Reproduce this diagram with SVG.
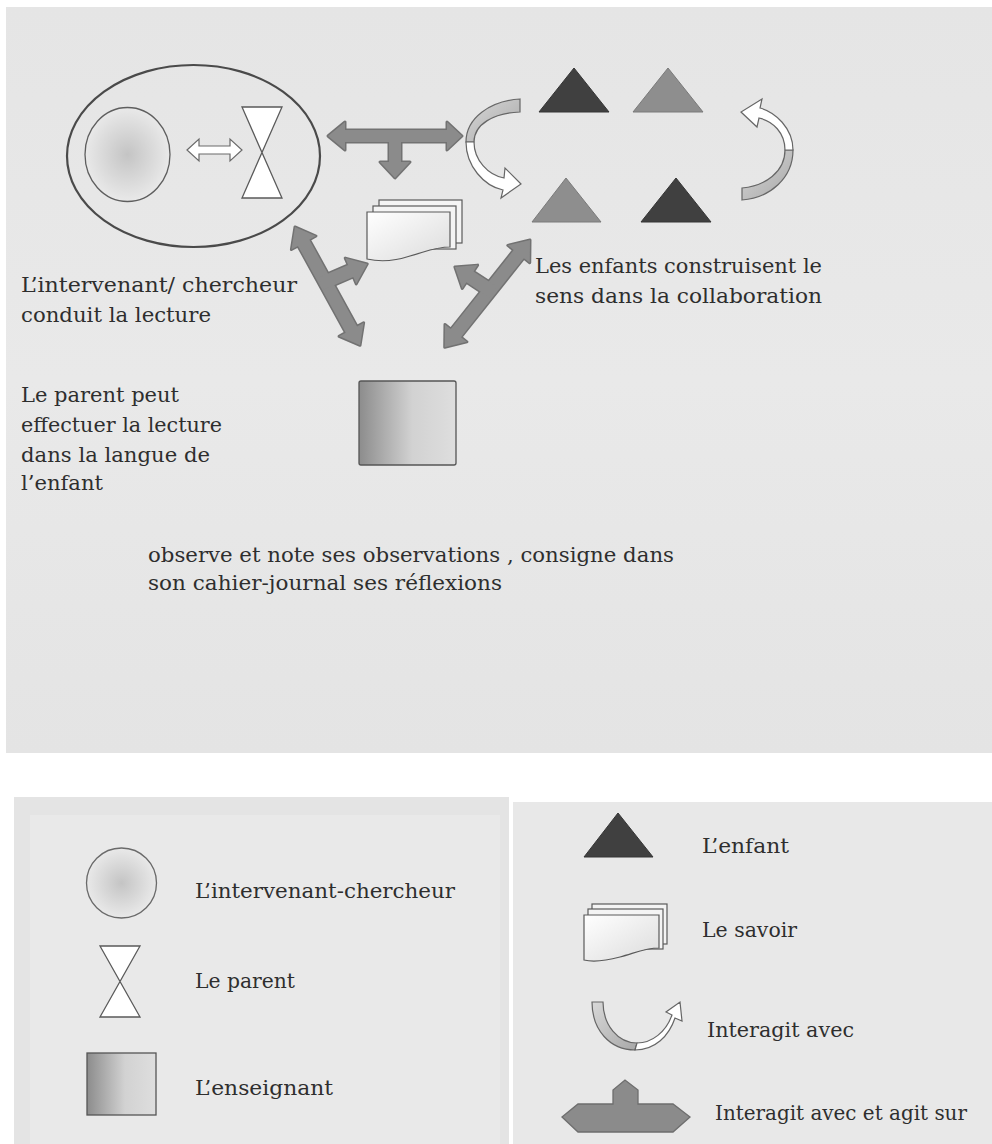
<svg xmlns="http://www.w3.org/2000/svg" xmlns:xlink="http://www.w3.org/1999/xlink" width="992" height="1144" viewBox="0 0 992 1144">
<defs>
<style>
.txt{font-family:"DejaVu Serif","Liberation Serif",serif;font-size:20px;fill:#2e2e2e}
.arrowout{fill:none;stroke:#727272;stroke-width:3;stroke-linejoin:round}
.arrowfill{fill:#8b8b8b;stroke:none}
.dark{fill:#404040;stroke:#353535;stroke-width:1}
.mid{fill:#8e8e8e;stroke:#7a7a7a;stroke-width:1}
.white{fill:#ffffff;stroke:#5a5a5a;stroke-width:1.3}
.band{fill:url(#bandGrad);stroke:#666666;stroke-width:1.2}
.bandw{fill:#ffffff;stroke:#666666;stroke-width:1.2}
</style>
<radialGradient id="circGrad" cx="0.5" cy="0.5" r="0.5">
<stop offset="0" stop-color="#c4c4c4"/>
<stop offset="1" stop-color="#e9e9e9"/>
</radialGradient>
<linearGradient id="sqGrad" x1="0" y1="0" x2="1" y2="0">
<stop offset="0" stop-color="#8c8c8c"/>
<stop offset="0.55" stop-color="#d2d2d2"/>
<stop offset="1" stop-color="#dedede"/>
</linearGradient>
<linearGradient id="cardGrad" x1="0" y1="0" x2="1" y2="1">
<stop offset="0" stop-color="#ffffff"/>
<stop offset="1" stop-color="#dcdcdc"/>
</linearGradient>
<linearGradient id="bandGrad" x1="0" y1="0" x2="1" y2="1">
<stop offset="0" stop-color="#d8d8d8"/>
<stop offset="1" stop-color="#a8a8a8"/>
</linearGradient>
<linearGradient id="panelGrad" x1="0" y1="0" x2="0" y2="1">
<stop offset="0" stop-color="#e5e5e5"/>
<stop offset="0.5" stop-color="#e9e9e9"/>
<stop offset="1" stop-color="#e4e4e4"/>
</linearGradient>
<path id="dblL" d="M0,0 L18,-14 L18,-6.5 L117,-6.5 L117,-14 L135,0 L117,14 L117,6.5 L18,6.5 L18,14 Z"/>
<path id="dblR" d="M0,0 L18,-14 L18,-6.5 L119,-6.5 L119,-14 L137,0 L119,14 L119,6.5 L18,6.5 L18,14 Z"/>
<path id="brL" d="M-4,-6.5 L28,-6.5 L28,-14 L46,0 L28,14 L28,6.5 L-4,6.5 Z"/>
<path id="brR" d="M-4,-6.5 L24,-6.5 L24,-14 L42,0 L24,14 L24,6.5 L-4,6.5 Z"/>
<path id="tArrow" d="M328,136 L345,122 L345,130 L447,130 L447,122 L462,136 L447,150 L447,142 L401,142 L401,162 L410,162 L395,178 L380,162 L389,162 L389,142 L345,142 L345,150 Z"/>
</defs>

<!-- panels -->
<rect x="0" y="0" width="992" height="1144" fill="#ffffff"/>
<rect x="6" y="7" width="986" height="746" fill="url(#panelGrad)"/>
<rect x="14" y="797" width="495" height="347" fill="#e4e4e4"/>
<rect x="30" y="815" width="470" height="329" fill="#e9e9e9"/>
<rect x="513" y="802" width="479" height="342" fill="#e8e8e8"/>

<!-- connectors -->
<g id="connectors">
  <g id="outlines">
    <use xlink:href="#tArrow" class="arrowout"/>
    <use xlink:href="#dblL" class="arrowout" transform="translate(295,227) rotate(61.2)"/>
    <use xlink:href="#brL" class="arrowout" transform="translate(325,282) rotate(-23.2)"/>
    <use xlink:href="#dblR" class="arrowout" transform="translate(530,240) rotate(128.5)"/>
    <use xlink:href="#brR" class="arrowout" transform="translate(490,290) rotate(-146.7)"/>
  </g>
  <g id="fills">
    <use xlink:href="#tArrow" class="arrowfill"/>
    <use xlink:href="#dblL" class="arrowfill" transform="translate(295,227) rotate(61.2)"/>
    <use xlink:href="#brL" class="arrowfill" transform="translate(325,282) rotate(-23.2)"/>
    <use xlink:href="#dblR" class="arrowfill" transform="translate(530,240) rotate(128.5)"/>
    <use xlink:href="#brR" class="arrowfill" transform="translate(490,290) rotate(-146.7)"/>
  </g>
  <path id="smallArrow" d="M187,150 L199,139 L199,146 L230,146 L230,139 L242,150 L230,161 L230,154 L199,154 L199,161 Z" fill="#ffffff" stroke="#6a6a6a" stroke-width="1.2"/>
  <g id="curveLeft">
    <path class="band" d="M520,99 C490,101 466,118 466,142 L474,142 C474,124 494,113 520,112 Z"/>
    <path class="bandw" d="M466,142 C466,166 484,186 503,190 L501,198 L521,184 L505,168 L504,178 C488,175 474,160 474,142 Z"/>
  </g>
  <g id="curveRight">
    <path class="band" d="M742,200 C770,198 793,178 793,150 L785,150 C785,172 765,186 742,188 Z"/>
    <path class="bandw" d="M793,150 C793,128 775,112 760,108 L762,99 L741,112 L757,127 L759,118 C773,121 785,133 785,150 Z"/>
  </g>
</g>

<!-- nodes -->
<g id="group-ellipse">
  <ellipse cx="193.5" cy="156" rx="126.5" ry="91" fill="none" stroke="#4a4a4a" stroke-width="2.2"/>
</g>
<g id="node-intervenant">
  <ellipse cx="127.5" cy="154.5" rx="42.5" ry="47" fill="url(#circGrad)" stroke="#5e5e5e" stroke-width="1.3"/>
</g>
<g id="node-parent">
  <path class="white" d="M242,107 L282,107 L242,198 L282,198 Z"/>
</g>
<g id="node-enfant1"><polygon class="dark" points="539,112 574,68 609,112"/></g>
<g id="node-enfant2"><polygon class="mid" points="633,112 668,68 703,112"/></g>
<g id="node-enfant3"><polygon class="mid" points="532,222 566,178 601,222"/></g>
<g id="node-enfant4"><polygon class="dark" points="641,222 676,178 711,222"/></g>
<g id="node-savoir">
  <rect x="379" y="200" width="83" height="43" fill="#f4f4f4" stroke="#5a5a5a" stroke-width="1.2"/>
  <rect x="373" y="206" width="83" height="43" fill="#f4f4f4" stroke="#5a5a5a" stroke-width="1.2"/>
  <path d="M367,212 H450 V247 C435,247 425,252 410,256 C395,261 380,262 367,259 Z" fill="url(#cardGrad)" stroke="#5a5a5a" stroke-width="1.2"/>
</g>
<g id="node-enseignant">
  <rect x="359" y="381" width="97" height="84" rx="2" fill="url(#sqGrad)" stroke="#555555" stroke-width="1.3"/>
</g>

<!-- main texts -->
<g id="label-intervenant">
  <text class="txt" x="21" y="292" textLength="276" lengthAdjust="spacingAndGlyphs">L’intervenant/ chercheur</text>
  <text class="txt" x="21" y="322" textLength="190" lengthAdjust="spacingAndGlyphs">conduit la lecture</text>
</g>
<g id="label-parent">
  <text class="txt" x="21" y="402" textLength="158" lengthAdjust="spacingAndGlyphs">Le parent peut</text>
  <text class="txt" x="21" y="432" textLength="201" lengthAdjust="spacingAndGlyphs">effectuer la lecture</text>
  <text class="txt" x="21" y="462" textLength="189" lengthAdjust="spacingAndGlyphs">dans la langue de</text>
  <text class="txt" x="21" y="490" textLength="82" lengthAdjust="spacingAndGlyphs">l’enfant</text>
</g>
<g id="label-enfants">
  <text class="txt" x="535" y="273" textLength="287" lengthAdjust="spacingAndGlyphs">Les enfants construisent le</text>
  <text class="txt" x="535" y="303" textLength="287" lengthAdjust="spacingAndGlyphs">sens dans la collaboration</text>
</g>
<g id="label-enseignant">
  <text class="txt" x="148" y="562" textLength="526" lengthAdjust="spacingAndGlyphs">observe et note ses observations , consigne dans</text>
  <text class="txt" x="148" y="590" textLength="354" lengthAdjust="spacingAndGlyphs">son cahier-journal ses réflexions</text>
</g>

<!-- legend left -->
<g id="legend-intervenant">
  <circle cx="121.5" cy="883" r="35" fill="url(#circGrad)" stroke="#6a6a6a" stroke-width="1.3"/>
  <text class="txt" x="195" y="898" textLength="260" lengthAdjust="spacingAndGlyphs">L’intervenant-chercheur</text>
</g>
<g id="legend-parent">
  <path class="white" d="M100,946 L140,946 L100,1017 L140,1017 Z"/>
  <text class="txt" x="195" y="988" textLength="100" lengthAdjust="spacingAndGlyphs">Le parent</text>
</g>
<g id="legend-enseignant">
  <rect x="87" y="1053" width="69" height="62" fill="url(#sqGrad)" stroke="#555555" stroke-width="1.3"/>
  <text class="txt" x="195" y="1095" textLength="138" lengthAdjust="spacingAndGlyphs">L’enseignant</text>
</g>

<!-- legend right -->
<g id="legend-enfant">
  <polygon class="dark" points="584,857 618,813 653,857"/>
  <text class="txt" x="702" y="853" textLength="87" lengthAdjust="spacingAndGlyphs">L’enfant</text>
</g>
<g id="legend-savoir">
  <rect x="592" y="904" width="75" height="40" fill="#f4f4f4" stroke="#5a5a5a" stroke-width="1.2"/>
  <rect x="588" y="909" width="75" height="40" fill="#f4f4f4" stroke="#5a5a5a" stroke-width="1.2"/>
  <path d="M584,915 H659 V948 C645,948 635,953 620,957 C605,961 592,962 584,960 Z" fill="url(#cardGrad)" stroke="#5a5a5a" stroke-width="1.2"/>
  <text class="txt" x="702" y="937" textLength="95" lengthAdjust="spacingAndGlyphs">Le savoir</text>
</g>
<g id="legend-interagit">
  <path class="band" d="M592,1002 C592,1030 610,1050 635,1050 L637,1043 C618,1043 603,1025 603,1002 Z"/>
  <path class="bandw" d="M635,1050 C655,1050 669,1036 675,1018 L682,1021 L680,1002 L666,1012 L672,1015 C666,1032 652,1043 637,1043 Z"/>
  <text class="txt" x="707" y="1037" textLength="147" lengthAdjust="spacingAndGlyphs">Interagit avec</text>
</g>
<g id="legend-agit">
  <path d="M562,1117 L578,1104 L613,1104 L613,1090 L625,1080 L638,1090 L638,1104 L673,1104 L690,1117 L673,1132 L578,1132 Z" fill="#8b8b8b" stroke="#6e6e6e" stroke-width="1.3"/>
  <text class="txt" x="715" y="1120" textLength="252" lengthAdjust="spacingAndGlyphs">Interagit avec et agit sur</text>
</g>
</svg>
